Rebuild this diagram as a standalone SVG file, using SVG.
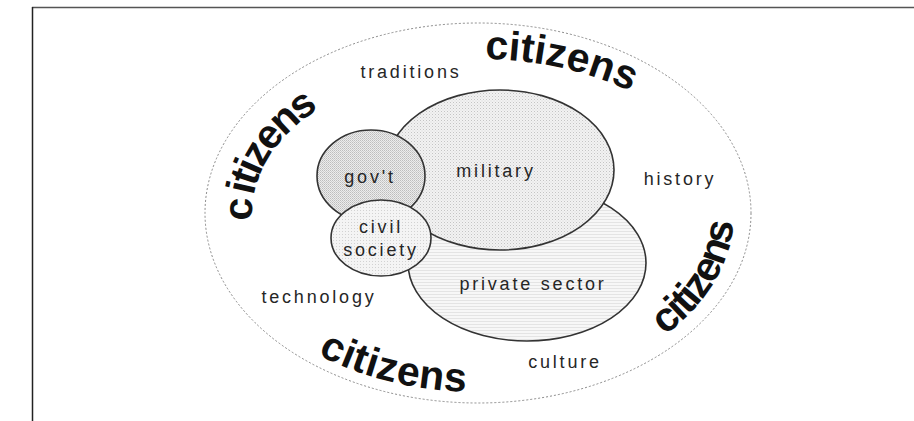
<svg xmlns="http://www.w3.org/2000/svg" width="914" height="421" viewBox="0 0 914 421">
  <style>
    .lbl { font-family: "Liberation Sans", Arial, sans-serif; font-size: 18px; letter-spacing: 2.8px; fill: #262626; text-anchor: middle; }
    .cit { font-family: "Liberation Sans", Arial, sans-serif; font-size: 41px; font-weight: bold; fill: #111; }
    .ring { fill: none; stroke: #8a8a8a; stroke-width: 1; stroke-dasharray: 2 2; }
    .blob { stroke: #333; stroke-width: 1.6; }
  </style>
  <defs>
    <pattern id="dotsMil" width="3" height="3" patternUnits="userSpaceOnUse">
      <rect width="3" height="3" fill="#f2f2f2"/>
      <rect width="1" height="1" fill="#c4c4c4"/>
      <rect x="1.5" y="1.5" width="1" height="1" fill="#d8d8d8"/>
    </pattern>
    <pattern id="dotsGov" width="2" height="2" patternUnits="userSpaceOnUse">
      <rect width="2" height="2" fill="#ececec"/>
      <rect width="1" height="1" fill="#bdbdbd"/>
      <rect x="1" y="1" width="1" height="1" fill="#cdcdcd"/>
    </pattern>
    <pattern id="dotsCiv" width="3" height="3" patternUnits="userSpaceOnUse">
      <rect width="3" height="3" fill="#f4f4f4"/>
      <rect width="1" height="1" fill="#d2d2d2"/>
    </pattern>
    <pattern id="linesPriv" width="4" height="3" patternUnits="userSpaceOnUse">
      <rect width="4" height="3" fill="#f7f7f7"/>
      <rect width="4" height="1" fill="#e4e4e4"/>
    </pattern>
    <!-- baselines for the four curved labels -->
    <path id="arcTop" d="M 485 59 A 248 154 0 0 1 672 117"/>
    <path id="arcLeft" d="M 252.3 220.7 A 226 147 0 0 1 348.3 92.6"/>
    <path id="arcRight" d="M 664.9 335.3 A 256 179 0 0 0 718.6 151.8"/>
    <path id="arcBottom" d="M 317.9 354.6 A 262 179 0 0 0 567.6 381.2"/>
  </defs>

  <rect width="914" height="421" fill="#fff"/>

  <!-- page frame -->
  <g id="frame">
    <line x1="32" y1="7.5" x2="914" y2="7.5" stroke="#555" stroke-width="1.4"/>
    <line x1="32.5" y1="7" x2="32.5" y2="421" stroke="#222" stroke-width="1.5"/>
  </g>

  <!-- society boundary -->
  <g id="society">
    <ellipse class="ring" cx="478" cy="213" rx="273" ry="190"/>
  </g>

  <g id="private-sector">
    <ellipse class="blob" cx="527" cy="263" rx="119" ry="78" fill="url(#linesPriv)"/>
  </g>
  <g id="military">
    <ellipse class="blob" cx="500" cy="170" rx="114" ry="80" fill="url(#dotsMil)"/>
  </g>
  <g id="government">
    <ellipse class="blob" cx="371" cy="176" rx="54" ry="46" fill="url(#dotsGov)"/>
  </g>
  <g id="civil-society">
    <ellipse class="blob" cx="381" cy="238" rx="50" ry="38" fill="url(#dotsCiv)"/>
  </g>

  <g id="connectors"/>

  <!-- labels -->
  <g id="labels">
    <text class="lbl" x="411" y="78">traditions</text>
    <text class="lbl" x="496" y="177">military</text>
    <text class="lbl" x="370" y="183">gov't</text>
    <text class="lbl" x="680" y="185">history</text>
    <text class="lbl" x="381" y="233">civil</text>
    <text class="lbl" x="381" y="256">society</text>
    <text class="lbl" x="319" y="303">technology</text>
    <text class="lbl" x="533" y="290">private sector</text>
    <text class="lbl" x="565" y="368">culture</text>
  </g>

  <g id="citizens">
    <text class="cit" letter-spacing="0"><textPath href="#arcTop">citizens</textPath></text>
    <text class="cit" letter-spacing="-2.6"><textPath href="#arcLeft">c<tspan dx="5">itizens</tspan></textPath></text>
    <text class="cit" letter-spacing="-2"><textPath href="#arcRight">citizens</textPath></text>
    <text class="cit" letter-spacing="0.5"><textPath href="#arcBottom">citizens</textPath></text>
  </g>
</svg>
